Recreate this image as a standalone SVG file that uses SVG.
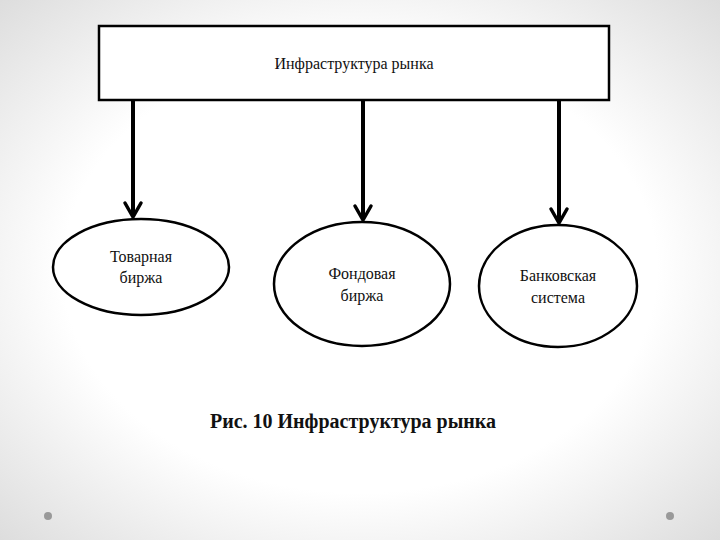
<svg xmlns="http://www.w3.org/2000/svg" width="720" height="540" viewBox="0 0 720 540">
<defs>
<radialGradient id="bg" cx="50%" cy="50%" r="75%">
<stop offset="0.55" stop-color="#ffffff"/><stop offset="1" stop-color="#d8d8d8"/>
</radialGradient>
<style>
.n{fill:#fff;stroke:#000;stroke-width:2.5}
.t{font-family:"Liberation Serif",serif;font-size:16px;text-anchor:middle;fill:#111}
.c{stroke:#000;stroke-width:4;fill:none;stroke-linejoin:miter}
.h{stroke:#000;stroke-width:3.5;fill:none;stroke-linecap:round}
</style>
</defs>
<rect width="720" height="540" fill="url(#bg)"/>
<circle cx="48" cy="516" r="4" fill="#999"/>
<circle cx="670" cy="516" r="4" fill="#999"/>
<g id="root"><rect class="n" x="99" y="26" width="510" height="74"/><text class="t" x="354" y="69">Инфраструктура рынка</text></g>
<g id="connectors">
<line class="c" x1="133" y1="101" x2="133" y2="216"/>
<path class="h" d="M125 203 L133 217 L141 203"/>
<line class="c" x1="363" y1="101" x2="363" y2="219"/>
<path class="h" d="M355 206 L363 220 L371 206"/>
<line class="c" x1="559" y1="101" x2="559" y2="222"/>
<path class="h" d="M551 209 L559 223 L567 209"/>
</g>
<g id="n1"><ellipse class="n" cx="141" cy="267" rx="88" ry="48"/><text class="t" x="141" y="262">Товарная</text><text class="t" x="141" y="283">биржа</text></g>
<g id="n2"><ellipse class="n" cx="362" cy="284" rx="88" ry="62"/><text class="t" x="362" y="279">Фондовая</text><text class="t" x="362" y="301">биржа</text></g>
<g id="n3"><ellipse class="n" cx="558" cy="286" rx="79" ry="61"/><text class="t" x="558" y="281">Банковская</text><text class="t" x="558" y="303">система</text></g>
<text x="353" y="428" style="font-family:'Liberation Serif',serif;font-size:20px;font-weight:bold;text-anchor:middle;fill:#111">Рис. 10 Инфраструктура рынка</text>
</svg>
